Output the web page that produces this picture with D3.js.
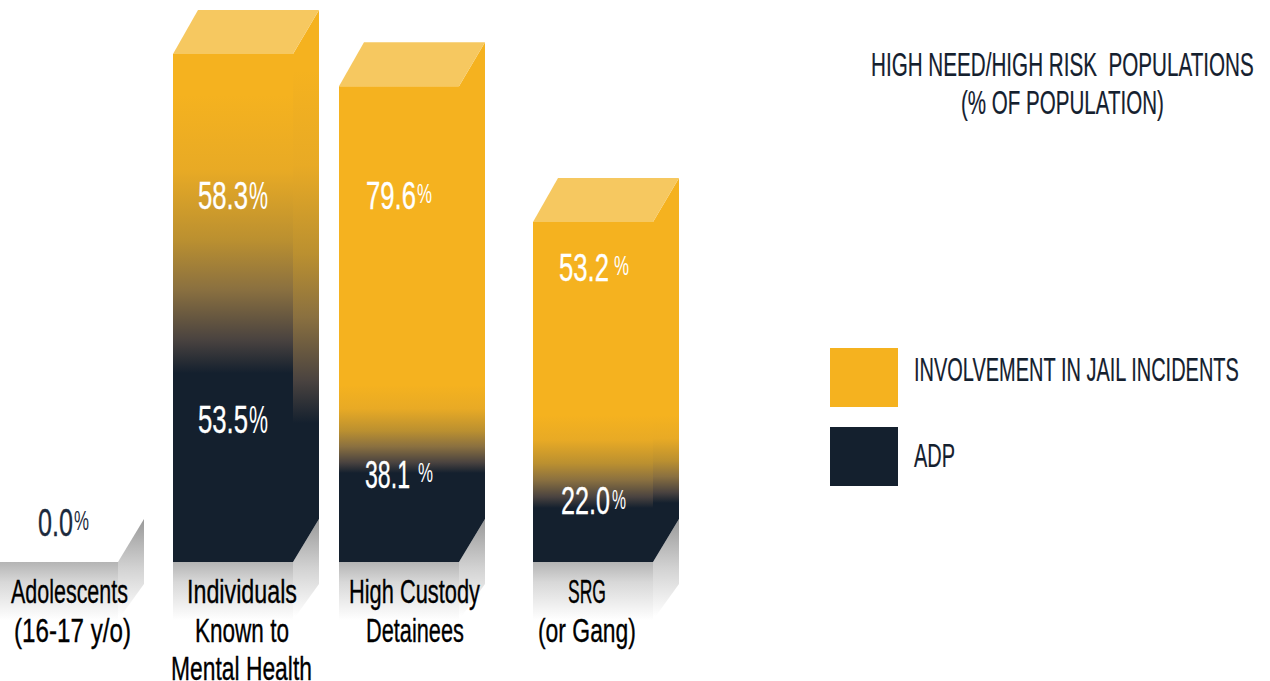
<!DOCTYPE html>
<html><head><meta charset="utf-8">
<script src="https://cdn.jsdelivr.net/npm/d3@7"></script>
<style>html,body{margin:0;padding:0;background:#fff}svg{display:block}text{font-family:"Liberation Sans Narrow","Liberation Sans",sans-serif;white-space:pre}</style>
</head><body><svg id="c" width="1270" height="681"></svg>
<script>
// Data
const categories = ["Adolescents","Individuals","High Custody","SRG"];
const categoryLines = [["Adolescents","(16-17 y/o)"],["Individuals","Known to","Mental Health"],["High Custody","Detainees"],["SRG","(or Gang)"]];
const adpLabels = ["0.0","53.5","38.1","22.0"];
const incidentLabels = [null,"58.3","79.6","53.2"];
// Drawn heights of the bars as pictured (the artwork is not to scale)
const adpHeights = [0,41.6,19.6,11.9];
const totalHeights = [0,111.9,104.8,74.9];
const legendLabels = ["INVOLVEMENT IN JAIL INCIDENTS","ADP"];
const titleLines = ["HIGH NEED/HIGH RISK  POPULATIONS","(% OF POPULATION)"];

const GOLD="#f5b21f",TOPC="#f6c860",DARK="#14202e";
const svg=d3.select("#c"), defs=svg.append("defs");
const x=d3.scaleOrdinal().domain(categories).range([-2,173,339,533]);
const y=d3.scaleLinear().domain([0,111.9]).range([562,54]);
const W=120,DX=26,DY=43;

function grad(id,y1,y2,stops){
  const g=defs.append("linearGradient").attr("id",id).attr("gradientUnits","userSpaceOnUse")
    .attr("x1",0).attr("x2",0).attr("y1",y1).attr("y2",y2);
  stops.forEach(s=>g.append("stop").attr("offset",s[0]).attr("stop-color",s[1]));
}
// gold->dark blend extents, front and side: start y, extra px past the ADP top
const fade=[null,{f:[95,0],s:[70,50]},{f:[385,0],s:[385,0]},{f:[415,0],s:[415,-5]}];
const blend=[[0,GOLD],[.27,"#e8aa25"],[.52,"#bb9030"],[.70,"#8a7040"],[.88,"#4a4340"],[1,DARK]];

categories.forEach((c,i)=>{
  const L=x(c),B=y(0),T=y(totalHeights[i]),A=y(adpHeights[i]);
  // reflection below the base
  grad("rf"+i,B,B+58,[[0,"#b4b4b4"],[.35,"#d8d8d8"],[1,"#ffffff"]]);
  grad("rs"+i,B-42,B+54,[[0,"#9a9a9a"],[.5,"#d2d2d2"],[1,"#ffffff"]]);
  svg.append("rect").attr("x",L).attr("y",B).attr("width",W).attr("height",58).attr("fill",`url(#rf${i})`);
  svg.append("path").attr("d",d3.line()([[L+W,B],[L+W+DX,B-DY],[L+W+DX,B+22],[L+W,B+58]])).attr("fill",`url(#rs${i})`);
  if(totalHeights[i]>0){
    const f=fade[i];
    grad("ff"+i,f.f[0],A,blend);
    grad("fs"+i,f.s[0],A+f.s[1],blend);
    svg.append("path").attr("d",d3.line()([[L+W,T],[L+W+DX,T-DY-1],[L+W+DX,B-DY],[L+W,B]])).attr("fill",`url(#fs${i})`);
    svg.append("rect").attr("x",L).attr("y",T).attr("width",W).attr("height",B-T).attr("fill",`url(#ff${i})`);
    svg.append("path").attr("d",d3.line()([[L,T],[L+DX-1,T-DY-1],[L+W+DX,T-DY-1],[L+W,T]])).attr("fill",TOPC);
  }
});

// fitted text: condensed face squeezed horizontally to the reference extents
function fit(s,x0,base,w,size,fill,sw){
  const t=svg.append("text").attr("font-size",size).attr("fill",fill)
    .attr("stroke",fill).attr("stroke-width",sw===undefined?.35:sw).text(s);
  const n=t.node().getComputedTextLength();
  t.attr("transform",`translate(${x0},${base}) scale(${w/n},1)`);
  return t;
}
// value labels: [numX,numW,baseline,pctX,pctW,pctSize,pctBaseline]
const adpPos=[[38,35,536,74,15,28,530],[198,50,433,249,19,39,433],[365,45,488,418,15,28,482],[561,49,514,612,14,28,509]];
const incPos=[null,[198,50,209,249,19,39,209],[366,50,209,417,15,28,203],[559,50,281,614,15,28,275]];
adpLabels.forEach((v,i)=>{
  const p=adpPos[i],col=i===0?"#1b2a3c":"#fff";
  fit(v,p[0],p[2],p[1],39,col);
  fit("%",p[3],p[6],p[4],p[5],col,0);
});
incidentLabels.forEach((v,i)=>{
  if(!v)return; const p=incPos[i];
  fit(v,p[0],p[2],p[1],39,"#fff");
  fit("%",p[3],p[6],p[4],p[5],"#fff",0);
});

// category labels: [x,width] per line
const catPos=[[[11,117],[14,117]],[[187,110],[195,94],[171,141]],[[349,131],[366,98]],[[568,38],[538,98]]];
const catBase=[603,642,680];
categoryLines.forEach((ls,i)=>ls.forEach((s,j)=>fit(s,catPos[i][j][0],catBase[j],catPos[i][j][1],33,"#000")));

// title
fit(titleLines[0],871,76,383,33,DARK,.2);
fit(titleLines[1],961,114,203,33,DARK,.2);

// legend
const lg=d3.scaleOrdinal().domain(legendLabels).range([348,427]);
const lc=d3.scaleOrdinal().domain(legendLabels).range([GOLD,DARK]);
const lt=[[381,325],[467,41]];
legendLabels.forEach((s,i)=>{
  svg.append("rect").attr("x",830).attr("y",lg(s)).attr("width",68).attr("height",59).attr("fill",lc(s));
  fit(s,914,lt[i][0],lt[i][1],33,DARK,.2);
});
</script></body></html>
